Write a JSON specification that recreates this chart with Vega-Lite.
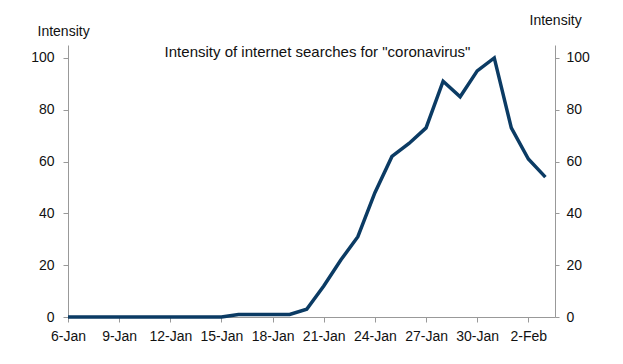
{
  "$schema": "https://vega.github.io/schema/vega-lite/v6.json",
  "width": 487,
  "height": 272,
  "autosize": {"type": "none"},
  "padding": {"left": 68, "top": 45, "right": 68, "bottom": 47},
  "background": "white",
  "title": {
    "text": "Intensity of internet searches for \"coronavirus\"",
    "anchor": "middle",
    "frame": "group",
    "orient": "top",
    "baseline": "middle",
    "offset": 0,
    "dy": 54,
    "dx": 6,
    "font": "Liberation Sans",
    "fontSize": 15,
    "fontWeight": "normal",
    "color": "#111111"
  },
  "config": {
    "view": {"stroke": null},
    "axis": {
      "labelFont": "Liberation Sans",
      "labelFontSize": 14,
      "labelColor": "#111111",
      "titleFont": "Liberation Sans",
      "titleFontSize": 14,
      "titleFontWeight": "normal",
      "titleColor": "#111111",
      "domainColor": "#999999",
      "tickColor": "#999999",
      "grid": false
    }
  },
  "data": {
    "values": [
      {"date": "2020-01-06", "intensity": 0},
      {"date": "2020-01-07", "intensity": 0},
      {"date": "2020-01-08", "intensity": 0},
      {"date": "2020-01-09", "intensity": 0},
      {"date": "2020-01-10", "intensity": 0},
      {"date": "2020-01-11", "intensity": 0},
      {"date": "2020-01-12", "intensity": 0},
      {"date": "2020-01-13", "intensity": 0},
      {"date": "2020-01-14", "intensity": 0},
      {"date": "2020-01-15", "intensity": 0},
      {"date": "2020-01-16", "intensity": 1},
      {"date": "2020-01-17", "intensity": 1},
      {"date": "2020-01-18", "intensity": 1},
      {"date": "2020-01-19", "intensity": 1},
      {"date": "2020-01-20", "intensity": 3},
      {"date": "2020-01-21", "intensity": 12},
      {"date": "2020-01-22", "intensity": 22},
      {"date": "2020-01-23", "intensity": 31},
      {"date": "2020-01-24", "intensity": 48},
      {"date": "2020-01-25", "intensity": 62},
      {"date": "2020-01-26", "intensity": 67},
      {"date": "2020-01-27", "intensity": 73},
      {"date": "2020-01-28", "intensity": 91},
      {"date": "2020-01-29", "intensity": 85},
      {"date": "2020-01-30", "intensity": 95},
      {"date": "2020-01-31", "intensity": 100},
      {"date": "2020-02-01", "intensity": 73},
      {"date": "2020-02-02", "intensity": 61},
      {"date": "2020-02-03", "intensity": 54}
    ]
  },
  "encoding": {
    "x": {
      "field": "date",
      "type": "temporal",
      "scale": {
        "type": "utc",
        "domain": [
          {"year": 2020, "month": "jan", "date": 6, "utc": true},
          {"year": 2020, "month": "feb", "date": 3, "hours": 13, "minutes": 30, "utc": true}
        ]
      },
      "axis": {
        "title": null,
        "format": "%-d-%b",
        "values": [
          {"year": 2020, "month": "jan", "date": 6, "utc": true},
          {"year": 2020, "month": "jan", "date": 9, "utc": true},
          {"year": 2020, "month": "jan", "date": 12, "utc": true},
          {"year": 2020, "month": "jan", "date": 15, "utc": true},
          {"year": 2020, "month": "jan", "date": 18, "utc": true},
          {"year": 2020, "month": "jan", "date": 21, "utc": true},
          {"year": 2020, "month": "jan", "date": 24, "utc": true},
          {"year": 2020, "month": "jan", "date": 27, "utc": true},
          {"year": 2020, "month": "jan", "date": 30, "utc": true},
          {"year": 2020, "month": "feb", "date": 2, "utc": true}
        ],
        "tickSize": 5,
        "labelPadding": 7,
        "labelFlush": false,
        "labelOverlap": false
      }
    }
  },
  "layer": [
    {
      "mark": {"type": "line", "color": "#0b3b64", "strokeWidth": 3.5, "strokeJoin": "miter", "strokeCap": "butt"},
      "encoding": {
        "y": {
          "field": "intensity",
          "type": "quantitative",
          "scale": {"domain": [0, 105], "nice": false},
          "axis": {
            "orient": "left",
            "values": [0, 20, 40, 60, 80, 100],
            "title": "Intensity",
            "titleAngle": 0,
            "titleAlign": "left",
            "titleBaseline": "middle",
            "titleX": -31,
            "titleY": -14,
            "tickSize": 5,
            "labelPadding": 9
          }
        }
      }
    },
    {
      "mark": {"type": "line", "opacity": 0},
      "encoding": {
        "y": {
          "field": "intensity",
          "type": "quantitative",
          "scale": {"domain": [0, 105], "nice": false},
          "axis": {
            "orient": "right",
            "values": [0, 20, 40, 60, 80, 100],
            "title": "Intensity",
            "titleAngle": 0,
            "titleAlign": "left",
            "titleBaseline": "middle",
            "titleX": -26,
            "titleY": -25,
            "tickSize": 4,
            "labelPadding": 7
          }
        }
      }
    }
  ],
  "resolve": {"axis": {"y": "independent"}}
}
